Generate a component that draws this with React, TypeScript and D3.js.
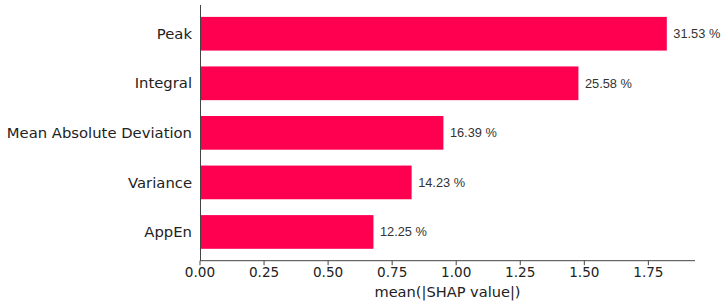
import React from "react";
import * as d3 from "d3";

// features ordered top to bottom
const features = ["Peak", "Integral", "Mean Absolute Deviation", "Variance", "AppEn"];
const shapValues = [1.822, 1.477, 0.95, 0.826, 0.677];
const percentLabels = ["31.53 %", "25.58 %", "16.39 %", "14.23 %", "12.25 %"];
const xTicks = [0, 0.25, 0.5, 0.75, 1.0, 1.25, 1.5, 1.75];

const W = 723,
  H = 306;
const margin = { top: 5, right: 28, bottom: 45, left: 200 };

function App() {
  const innerW = W - margin.left - margin.right;
  const innerH = H - margin.top - margin.bottom - 0.3;

  const x = d3.scaleLinear().domain([0, 1.932]).range([0, innerW]);
  // bars centred at index positions, mimicking matplotlib's ylim padding
  const y = d3.scaleLinear().domain([-0.58, features.length - 1 + 0.58]).range([0, innerH]);
  const barH = y(0.68) - y(0);

  return (
    <svg width={W} height={H} style={{ position: "absolute", left: 0, top: 0 }}>
      <g transform={`translate(${margin.left},${margin.top})`}>
        {features.map((f, i) => (
          <g key={f}>
            <rect
              x={x(0)}
              y={y(i) - barH / 2}
              width={x(shapValues[i]) - x(0)}
              height={barH}
              fill="#ff0051"
            />
            <text
              x={-8}
              y={y(i)}
              dy="0.35em"
              textAnchor="end"
              fontFamily="DejaVu Sans"
              fontSize={14.8}
              fill="#222"
            >
              {f}
            </text>
            <text
              x={x(shapValues[i]) + 6.5}
              y={y(i)}
              dy="0.35em"
              fontFamily="Liberation Sans, Arial"
              fontSize={12.8}
              fill="#333"
            >
              {percentLabels[i]}
            </text>
          </g>
        ))}

        {/* left spine */}
        <line x1={0.5} x2={0.5} y1={0} y2={innerH} stroke="#444" strokeWidth={1} />
        {/* bottom spine */}
        <line x1={0} x2={innerW} y1={innerH} y2={innerH} stroke="#444" strokeWidth={1} />

        {xTicks.map((t) => (
          <g key={t} transform={`translate(${x(t)},${innerH})`}>
            <line y1={0} y2={4.5} stroke="#444" />
            <text
              y={16.5}
              textAnchor="middle"
              fontFamily="DejaVu Sans"
              fontSize={13.6}
              fill="#222"
            >
              {t.toFixed(2)}
            </text>
          </g>
        ))}

        <text
          x={innerW / 2}
          y={innerH + 36.5}
          textAnchor="middle"
          fontFamily="DejaVu Sans"
          fontSize={14.6}
          fill="#222"
        >
          mean(|SHAP value|)
        </text>
      </g>
    </svg>
  );
}

export default App;
